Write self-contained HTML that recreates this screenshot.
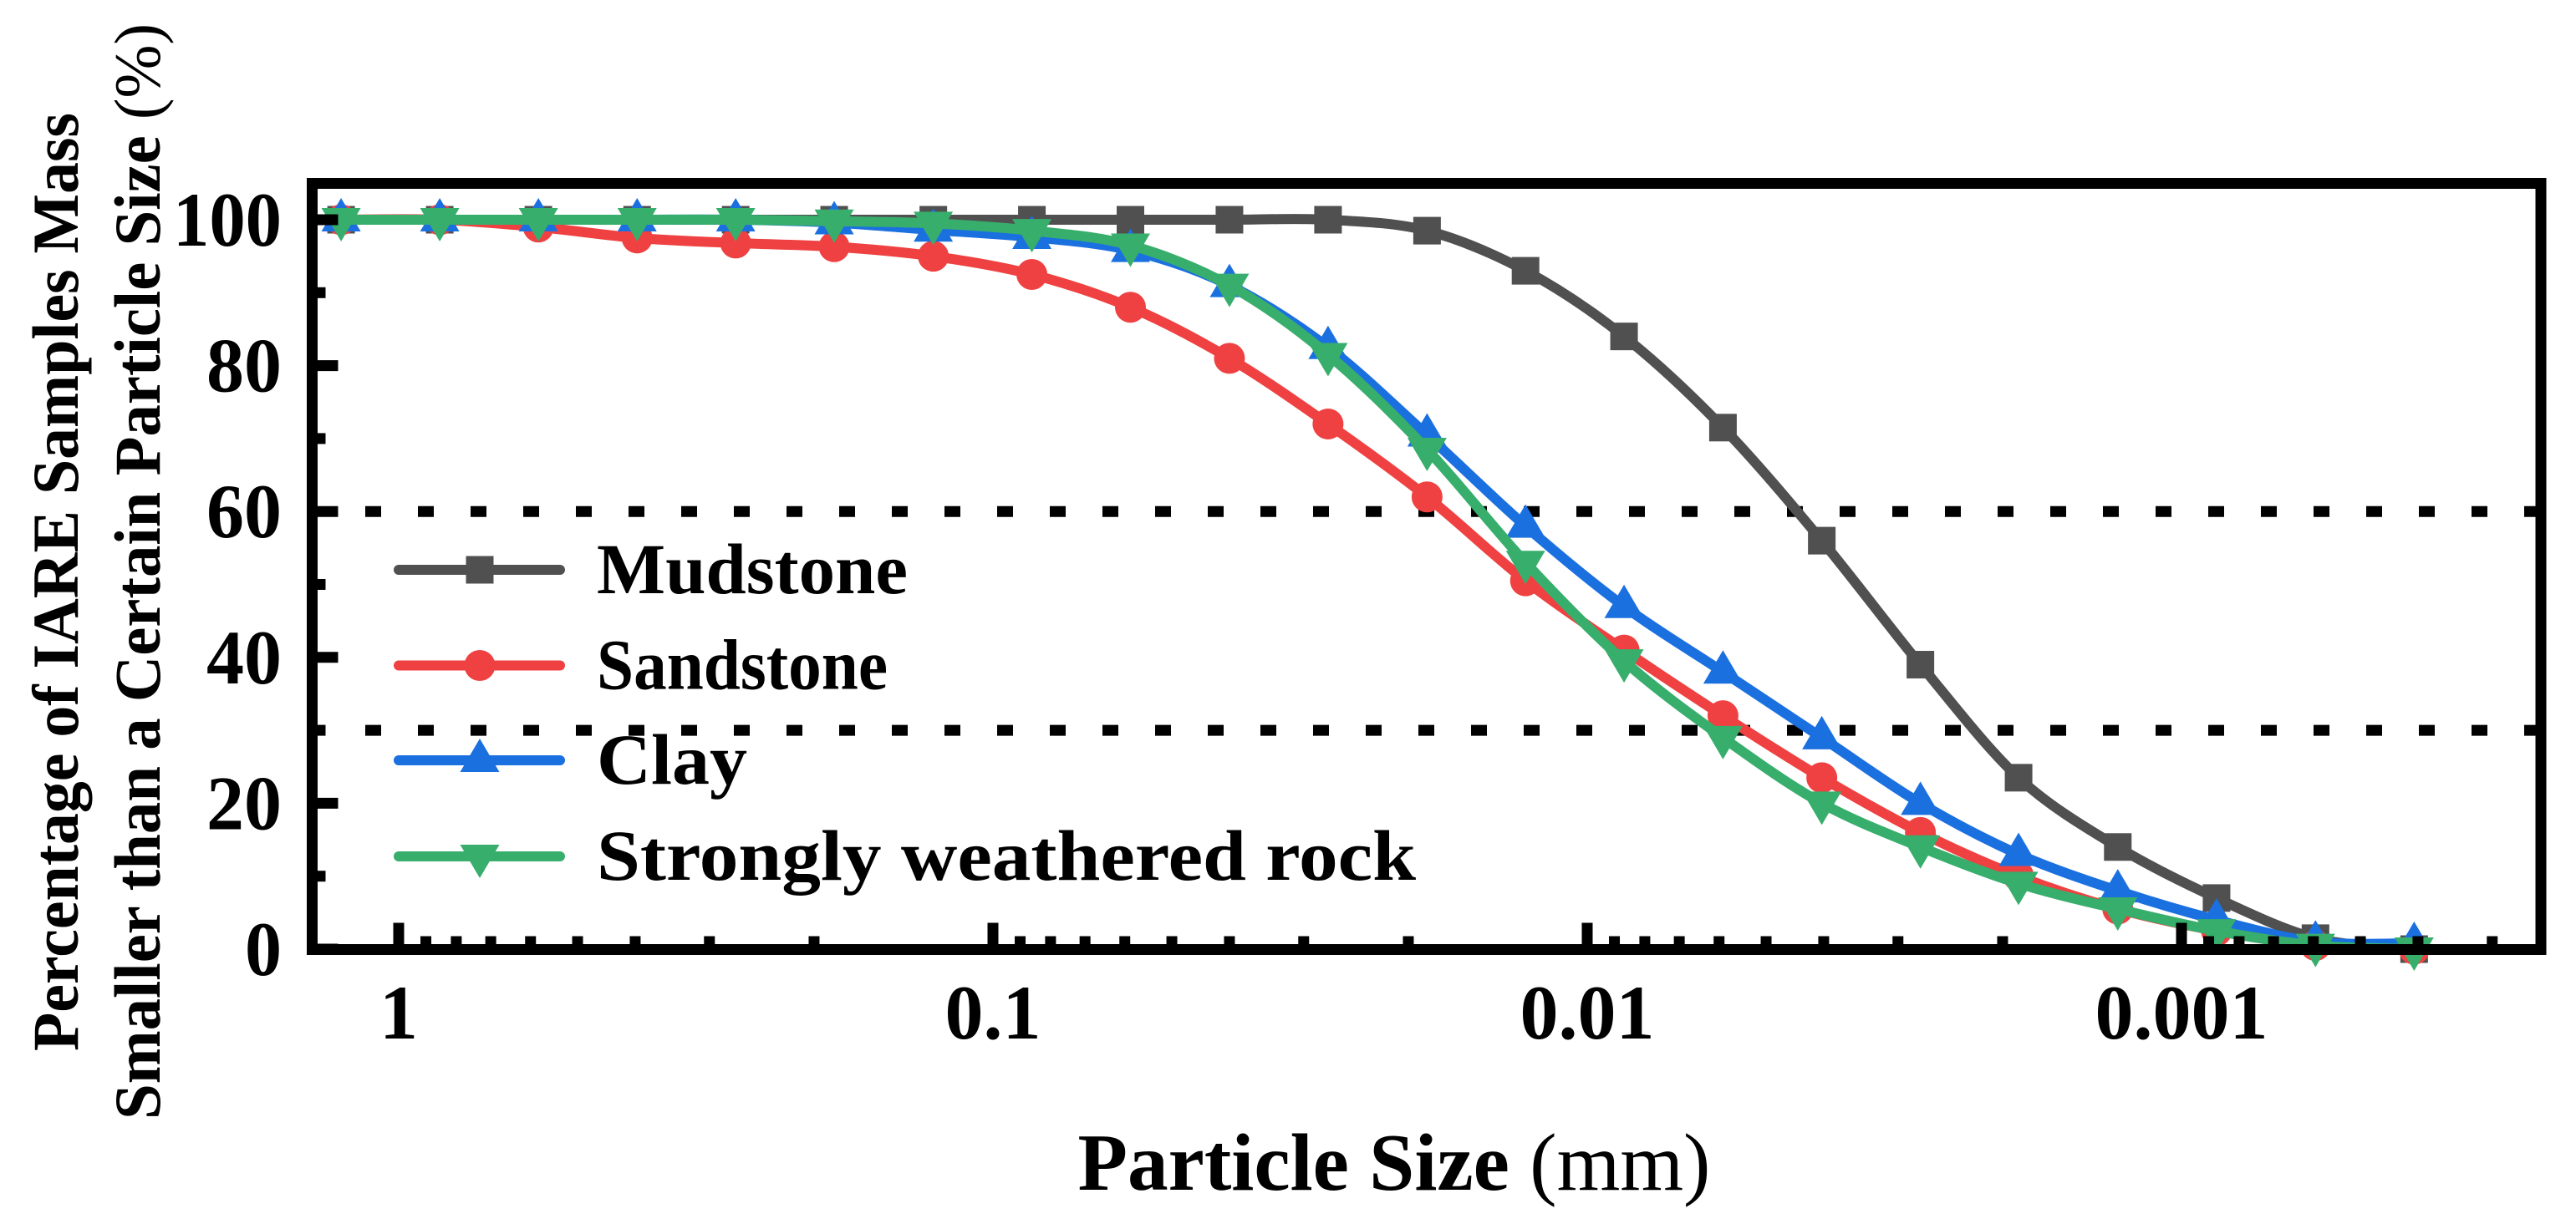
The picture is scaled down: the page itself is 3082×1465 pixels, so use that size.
<!DOCTYPE html>
<html><head><meta charset="utf-8"><style>
html,body{margin:0;padding:0;background:#fff;}
svg{display:block;font-family:"Liberation Serif","Times New Roman",serif;}
</style></head><body>
<svg id="chart" width="3082" height="1465" viewBox="0 0 3082 1465">
<rect width="3082" height="1465" fill="#fff"/>
<g id="grid"></g>
<g id="series"></g>
<g id="axes"></g>
<g id="legend"></g>
<text transform="translate(93,1258) rotate(-90)" font-size="78" font-weight="bold" textLength="1123" lengthAdjust="spacingAndGlyphs">Percentage of IARE Samples Mass</text>
<text transform="translate(191,1340) rotate(-90)" font-size="78" textLength="1312" lengthAdjust="spacingAndGlyphs"><tspan font-weight="bold">Smaller than a Certain Particle Size</tspan>  (%)</text>
<text x="1668" y="1424" text-anchor="middle" font-size="97" textLength="757" lengthAdjust="spacingAndGlyphs"><tspan font-weight="bold">Particle Size</tspan> (mm)</text>
</svg>
<script>
const sizes = [1.25,0.853,0.582,0.397,0.271,0.185,0.126,0.086,0.0587,0.04,0.0273,0.0186,0.0127,0.00867,0.00591,0.00403,0.00275,0.00188,0.00128,0.000873,0.000595,0.000406];
const mudstone = [100,100,100,100,100,100,100,100,100,100,100,98.5,93,84,71.5,56,39,23.5,14,7,1.5,0];
const sandstone = [100,100,99,97.5,96.8,96.3,95,92.5,88,81,72,62,50.5,41,32,23.5,16,10,5.5,2.5,0.5,0];
const clay = [100,100,100,100,100,99.6,98.6,97.6,95.8,91,82.5,70.5,58,47,38,29,20,13,8,4,1,0.8];
const weathered = [100,100,100,100,100,99.8,99.5,98.5,96.5,91,81.5,68.5,53,39.5,29,20,14,9,5.5,2.5,0.5,0];
const yTicks = [0,20,40,60,80,100];
const yMinor = [10,30,50,70,90];
const xMajor = [1,0.1,0.01,0.001];
const xMajorLabels = ["1","0.1","0.01","0.001"];
const refLines = [60,30];
const seriesNames = ["Mudstone","Sandstone","Clay","Strongly weathered rock"];

const NS="http://www.w3.org/2000/svg";
const L=373.5,R=3040,T=219.5,B=1136.5;
const X1=477, DEC=711, Y0=1136, Y100=263;
function xs(v){return X1 - Math.log10(v)*DEC;}
function ys(v){return Y0 - (Y0-Y100)*v/100;}
function mk(tag,attrs,parent){const e=document.createElementNS(NS,tag);for(const k in attrs)e.setAttribute(k,attrs[k]);parent.appendChild(e);return e;}
const grid=document.getElementById('grid'),axes=document.getElementById('axes'),ser=document.getElementById('series'),leg=document.getElementById('legend');

refLines.forEach(v=>{
  const l=mk('line',{x1:437,x2:R,y1:ys(v),y2:ys(v),stroke:'#000','stroke-width':13,'stroke-dasharray':'19 44'},grid);
  
  
});

const colors=['#505050','#ef4141','#1b70e0','#37ae6c'];
const data=[mudstone,sandstone,clay,weathered];
function pathFor(vals){
  const p=sizes.map((s,i)=>[xs(s),ys(vals[i])]);
  let d='M'+p[0][0]+','+p[0][1];
  for(let i=0;i<p.length-1;i++){
    const p0=p[Math.max(0,i-1)],p1=p[i],p2=p[i+1],p3=p[Math.min(p.length-1,i+2)];
    const t=0.16;
    const c1=[p1[0]+(p2[0]-p0[0])*t,p1[1]+(p2[1]-p0[1])*t];
    const c2=[p2[0]-(p3[0]-p1[0])*t,p2[1]-(p3[1]-p1[1])*t];
    d+=' C'+c1+' '+c2+' '+p2;
  }
  return d;
}
function marker(type,x,y,c,parent){
  let m;
  if(type===0)m=mk('rect',{x:x-16.5,y:y-16.5,width:33,height:33,fill:c},parent);
  else if(type===1)m=mk('circle',{cx:x,cy:y,r:18.5,fill:c},parent);
  else if(type===2)m=mk('polygon',{points:`${x},${y-26} ${x-23.5},${y+14} ${x+23.5},${y+14}`,fill:c},parent);
  else m=mk('polygon',{points:`${x},${y+26} ${x-23.5},${y-14} ${x+23.5},${y-14}`,fill:c},parent);
  return m;
}
data.forEach((vals,k)=>{
  const g=mk('g',{},ser);
  
  
  const pth=mk('path',{d:pathFor(vals),fill:'none',stroke:colors[k],'stroke-width':12,'stroke-linejoin':'round'},g);
  
  
  vals.forEach((v,i)=>{
    const m=marker(k,xs(sizes[i]),ys(v),colors[k],g);
    
    
  });
});

const fr=mk('rect',{x:L,y:T,width:R-L,height:B-T,fill:'none',stroke:'#000','stroke-width':13},axes);


const yLabW={"0":44,"20":90,"40":90,"60":90,"80":90,"100":130};
yTicks.forEach(v=>{
  const t=mk('line',{x1:L,x2:L+31,y1:ys(v),y2:ys(v),stroke:'#000','stroke-width':13},axes);
  
  
  const tx=mk('text',{x:337,y:ys(v)+31,'text-anchor':'end','font-size':92,'font-weight':'bold',textLength:yLabW[String(v)]||90,lengthAdjust:'spacingAndGlyphs'},axes);
  tx.textContent=String(v);
  
  
});
yMinor.forEach(v=>{
  const t=mk('line',{x1:L,x2:L+16,y1:ys(v),y2:ys(v),stroke:'#000','stroke-width':13},axes);
  
  
});
xMajor.forEach((v,i)=>{
  const x=xs(v);
  const t=mk('line',{x1:x,x2:x,y1:B,y2:B-32,stroke:'#000','stroke-width':13},axes);
  
  
  const tx=mk('text',{x:x,y:1243,'text-anchor':'middle','font-size':92,'font-weight':'bold'},axes);
  tx.textContent=xMajorLabels[i];
  
  
  for(let m=2;m<=9;m++){
    const mv=v*m/10, mx=xs(mv);
    if(mx<=L+8||mx>=R-8)continue;
    const mt=mk('line',{x1:mx,x2:mx,y1:B,y2:B-16,stroke:'#000','stroke-width':13},axes);
    
    
  }
});

const legY=[682,796.5,910,1025];
const legW=[372,348,180,980];
seriesNames.forEach((n,k)=>{
  const g=mk('g',{},leg);
  
  
  mk('line',{x1:477,x2:670,y1:legY[k],y2:legY[k],stroke:colors[k],'stroke-width':12,'stroke-linecap':'round'},g);
  marker(k,574,legY[k],colors[k],g);
  const t=mk('text',{x:714,y:legY[k]+28,'font-size':86,'font-weight':'bold',textLength:legW[k],lengthAdjust:'spacingAndGlyphs'},g);
  t.textContent=n;
});
</script>
</body></html>
